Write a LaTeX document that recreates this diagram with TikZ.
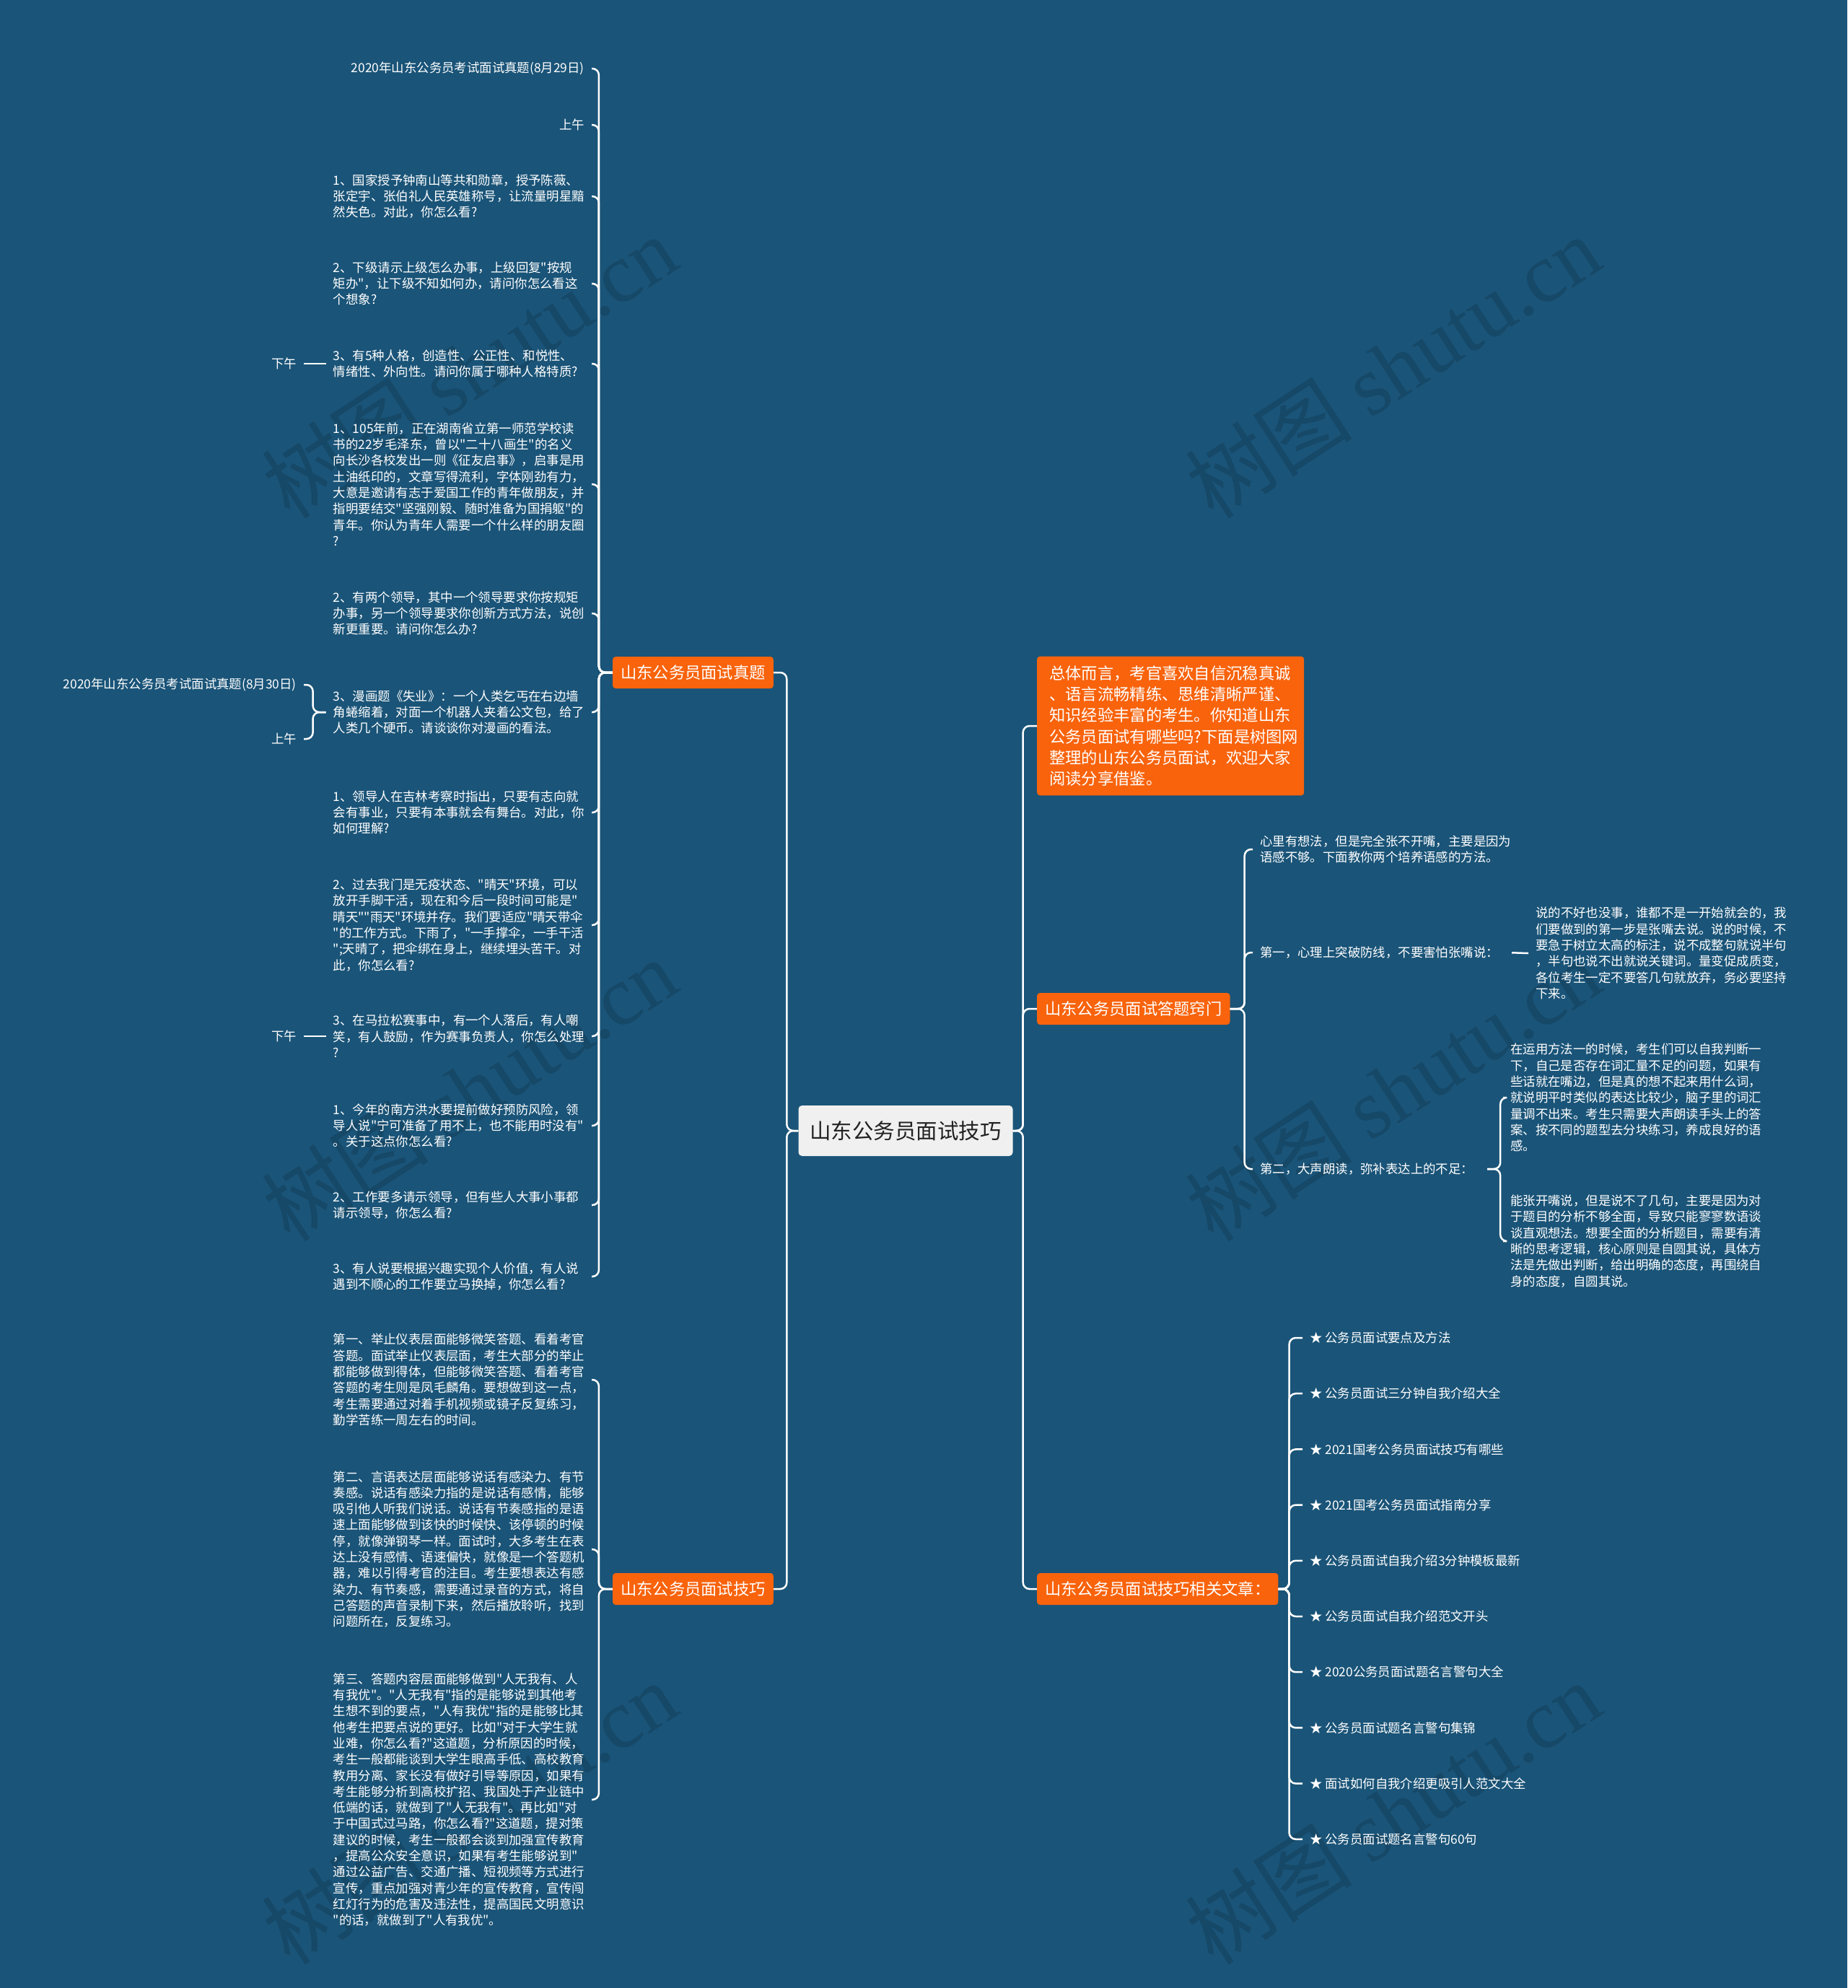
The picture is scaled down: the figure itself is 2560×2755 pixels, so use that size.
\documentclass[tikz,border=0pt]{standalone}
\usepackage{fontspec}
\setmainfont{Noto Sans CJK SC}[Ligatures=TeXOff]
\newfontfamily\wmserif{Liberation Serif}
\usepackage{tikz}
\usetikzlibrary{positioning}
\definecolor{deepblue}{RGB}{26,84,120}
\definecolor{tangerine}{RGB}{248,99,12}
\definecolor{paper}{RGB}{240,240,240}
\definecolor{ink}{RGB}{34,34,34}
\newcommand{\leaffont}{\fontsize{17.4}{22.3}\selectfont}
\newcommand{\brfont}{\fontsize{22.3}{29.2}\selectfont}

\begin{document}
\begin{tikzpicture}[x=1pt,y=-1pt,
  link/.style={draw=white,line width=2.5pt,rounded corners=9pt},
  leaf/.style={text=white,font=\leaffont,align=left,inner xsep=10pt,inner ysep=2pt},
  qbox/.style={leaf,text width=348pt},
  branch/.style={rectangle,rounded corners=4pt,fill=tangerine,text=white,
    font=\brfont,inner xsep=11pt,minimum height=44pt},
  rootbox/.style={rectangle,rounded corners=5pt,fill=paper,text=ink,
    font=\fontsize{29.5}{34}\selectfont,minimum width=297pt,minimum height=70pt},
  wmark/.style={text=deepblue!86!black,rotate=33,font=\fontsize{116}{120}\selectfont}
]
\fill[deepblue] (0,0) rectangle (2560,2755);
\foreach \wx in {650,1930}
  \foreach \wy in {508,1510,2512}
    \node[wmark] (wm\wx\wy) at (\wx,\wy) {树图 {\wmserif shutu.cn}};

\node[rootbox] (root) at (1255,1567) {山东公务员面试技巧};
\node[branch,anchor=east] (zhenti) at (1072,932) {山东公务员面试真题};
\node[branch,anchor=east] (jiqiao) at (1072,2202) {山东公务员面试技巧};
\node[branch,anchor=west,text width=336pt,align=left,inner xsep=17pt,inner ysep=13pt] (intro) at (1437,1006)
  {总体而言，考官喜欢自信沉稳真诚\\、语言流畅精练、思维清晰严谨、\\知识经验丰富的考生。你知道山东\\公务员面试有哪些吗?下面是树图网\\整理的山东公务员面试，欢迎大家\\阅读分享借鉴。};
\node[branch,anchor=west] (qiaomen) at (1437,1398) {山东公务员面试答题窍门};
\node[branch,anchor=west] (wenzhang) at (1437,2202) {山东公务员面试技巧相关文章：};

% 真题
\node[leaf,anchor=east] (q1) at (820,95) {2020年山东公务员考试面试真题(8月29日)};
\node[leaf,anchor=east] (q2) at (820,173) {上午};
\node[qbox,anchor=east] (q3) at (820,272) {1、国家授予钟南山等共和勋章，授予陈薇、\\张定宇、张伯礼人民英雄称号，让流量明星黯\\然失色。对此，你怎么看?};
\node[qbox,anchor=east] (q4) at (820,393) {2、下级请示上级怎么办事，上级回复"按规\\矩办"，让下级不知如何办，请问你怎么看这\\个想象?};
\node[qbox,anchor=east] (q5) at (820,504) {3、有5种人格，创造性、公正性、和悦性、\\情绪性、外向性。请问你属于哪种人格特质?};
\node[qbox,anchor=east] (q6) at (820,671) {1、105年前，正在湖南省立第一师范学校读\\书的22岁毛泽东，曾以"二十八画生"的名义\\向长沙各校发出一则《征友启事》，启事是用\\土油纸印的，文章写得流利，字体刚劲有力，\\大意是邀请有志于爱国工作的青年做朋友，并\\指明要结交"坚强刚毅、随时准备为国捐躯"的\\青年。你认为青年人需要一个什么样的朋友圈\\?};
\node[qbox,anchor=east] (q7) at (820,850) {2、有两个领导，其中一个领导要求你按规矩\\办事，另一个领导要求你创新方式方法，说创\\新更重要。请问你怎么办?};
\node[qbox,anchor=east] (q8) at (820,987) {3、漫画题《失业》：一个人类乞丐在右边墙\\角蜷缩着，对面一个机器人夹着公文包，给了\\人类几个硬币。请谈谈你对漫画的看法。};
\node[qbox,anchor=east] (q9) at (820,1126) {1、领导人在吉林考察时指出，只要有志向就\\会有事业，只要有本事就会有舞台。对此，你\\如何理解?};
\node[qbox,anchor=east] (q10) at (820,1282) {2、过去我门是无疫状态、"晴天"环境，可以\\放开手脚干活，现在和今后一段时间可能是"\\晴天""雨天"环境并存。我们要适应"晴天带伞\\"的工作方式。下雨了，"一手撑伞，一手干活\\";天晴了，把伞绑在身上，继续埋头苦干。对\\此，你怎么看?};
\node[qbox,anchor=east] (q11) at (820,1436) {3、在马拉松赛事中，有一个人落后，有人嘲\\笑，有人鼓励，作为赛事负责人，你怎么处理\\?};
\node[qbox,anchor=east] (q12) at (820,1560) {1、今年的南方洪水要提前做好预防风险，领\\导人说"宁可准备了用不上，也不能用时没有"\\。关于这点你怎么看?};
\node[qbox,anchor=east] (q13) at (820,1670) {2、工作要多请示领导，但有些人大事小事都\\请示领导，你怎么看?};
\node[qbox,anchor=east] (q14) at (820,1769) {3、有人说要根据兴趣实现个人价值，有人说\\遇到不顺心的工作要立马换掉，你怎么看?};

\node[leaf,anchor=east] (pm1) at (421,504) {下午};
\node[leaf,anchor=east] (pm2) at (421,1436) {下午};
\node[leaf,anchor=east] (d30) at (421,949) {2020年山东公务员考试面试真题(8月30日)};
\node[leaf,anchor=east] (am2) at (421,1024) {上午};

% 技巧
\node[qbox,anchor=east] (t1) at (820,1912) {第一、举止仪表层面能够微笑答题、看着考官\\答题。面试举止仪表层面，考生大部分的举止\\都能够做到得体，但能够微笑答题、看着考官\\答题的考生则是凤毛麟角。要想做到这一点，\\考生需要通过对着手机视频或镜子反复练习，\\勤学苦练一周左右的时间。};
\node[qbox,anchor=east] (t2) at (820,2147) {第二、言语表达层面能够说话有感染力、有节\\奏感。说话有感染力指的是说话有感情，能够\\吸引他人听我们说话。说话有节奏感指的是语\\速上面能够做到该快的时候快、该停顿的时候\\停，就像弹钢琴一样。面试时，大多考生在表\\达上没有感情、语速偏快，就像是一个答题机\\器，难以引得考官的注目。考生要想表达有感\\染力、有节奏感，需要通过录音的方式，将自\\己答题的声音录制下来，然后播放聆听，找到\\问题所在，反复练习。};
\node[qbox,anchor=east] (t3) at (820,2494) {第三、答题内容层面能够做到"人无我有、人\\有我优"。"人无我有"指的是能够说到其他考\\生想不到的要点，"人有我优"指的是能够比其\\他考生把要点说的更好。比如"对于大学生就\\业难，你怎么看?"这道题，分析原因的时候，\\考生一般都能谈到大学生眼高手低、高校教育\\教用分离、家长没有做好引导等原因，如果有\\考生能够分析到高校扩招、我国处于产业链中\\低端的话，就做到了"人无我有"。再比如"对\\于中国式过马路，你怎么看?"这道题，提对策\\建议的时候，考生一般都会谈到加强宣传教育\\，提高公众安全意识，如果有考生能够说到"\\通过公益广告、交通广播、短视频等方式进行\\宣传，重点加强对青少年的宣传教育，宣传闯\\红灯行为的危害及违法性，提高国民文明意识\\"的话，就做到了"人有我优"。};

% 答题窍门
\node[leaf,anchor=west] (m1) at (1736,1177) {心里有想法，但是完全张不开嘴，主要是因为\\语感不够。下面教你两个培养语感的方法。};
\node[leaf,anchor=west] (m2) at (1736,1320) {第一，心理上突破防线，不要害怕张嘴说：};
\node[leaf,anchor=west] (m3) at (1736,1620) {第二，大声朗读，弥补表达上的不足：};
\node[qbox,anchor=west] (m2a) at (2118,1321) {说的不好也没事，谁都不是一开始就会的，我\\们要做到的第一步是张嘴去说。说的时候，不\\要急于树立太高的标注，说不成整句就说半句\\，半句也说不出就说关键词。量变促成质变，\\各位考生一定不要答几句就放弃，务必要坚持\\下来。};
\node[qbox,anchor=west] (m3a) at (2083,1521) {在运用方法一的时候，考生们可以自我判断一\\下，自己是否存在词汇量不足的问题，如果有\\些话就在嘴边，但是真的想不起来用什么词，\\就说明平时类似的表达比较少，脑子里的词汇\\量调不出来。考生只需要大声朗读手头上的答\\案、按不同的题型去分块练习，养成良好的语\\感。};
\node[qbox,anchor=west] (m3b) at (2083,1720) {能张开嘴说，但是说不了几句，主要是因为对\\于题目的分析不够全面，导致只能寥寥数语谈\\谈直观想法。想要全面的分析题目，需要有清\\晰的思考逻辑，核心原则是自圆其说，具体方\\法是先做出判断，给出明确的态度，再围绕自\\身的态度，自圆其说。};

% 相关文章
\foreach \txt [count=\i] in {公务员面试要点及方法,公务员面试三分钟自我介绍大全,
  2021国考公务员面试技巧有哪些,2021国考公务员面试指南分享,公务员面试自我介绍3分钟模板最新,
  公务员面试自我介绍范文开头,2020公务员面试题名言警句大全,公务员面试题名言警句集锦,
  面试如何自我介绍更吸引人范文大全,公务员面试题名言警句60句}
  \node[leaf,anchor=west] (s\i) at (1805,{1854+(\i-1)*77.2}) {★ \txt};

\draw[link] (root.west) -- ++(-16,0) |- (zhenti.east);
\draw[link] (root.west) -- ++(-16,0) |- (jiqiao.east);
\draw[link] (root.east) -- ++(14,0) |- (intro.west);
\draw[link] (root.east) -- ++(14,0) |- (qiaomen.west);
\draw[link] (root.east) -- ++(14,0) |- (wenzhang.west);
\foreach \c in {q1,q2,q3,q4,q5,q6,q7,q8,q9,q10,q11,q12,q13,q14}
  \draw[link] (zhenti.west) -- ++(-19,0) |- (\c.east);
\draw[link] (pm1.east) -- (q5.west);
\draw[link] (pm2.east) -- (q11.west);
\draw[link] (q8.west) -- ++(-18,0) |- (d30.east);
\draw[link] (q8.west) -- ++(-18,0) |- (am2.east);
\foreach \c in {t1,t2,t3}
  \draw[link] (jiqiao.west) -- ++(-19,0) |- (\c.east);
\foreach \c in {m1,m2,m3}
  \draw[link] (qiaomen.east) -- ++(20,0) |- (\c.west);
\draw[link,shorten <=8pt] (m2.east) -- (m2a.west);
\draw[link,shorten <=9pt] (m3.east) -- ++(27,0) |- (m3a.west);
\draw[link,shorten <=9pt] (m3.east) -- ++(27,0) |- (m3b.west);
\foreach \i in {1,...,10}
  \draw[link] (wenzhang.east) -- ++(15,0) |- (s\i.west);
\end{tikzpicture}
\end{document}
